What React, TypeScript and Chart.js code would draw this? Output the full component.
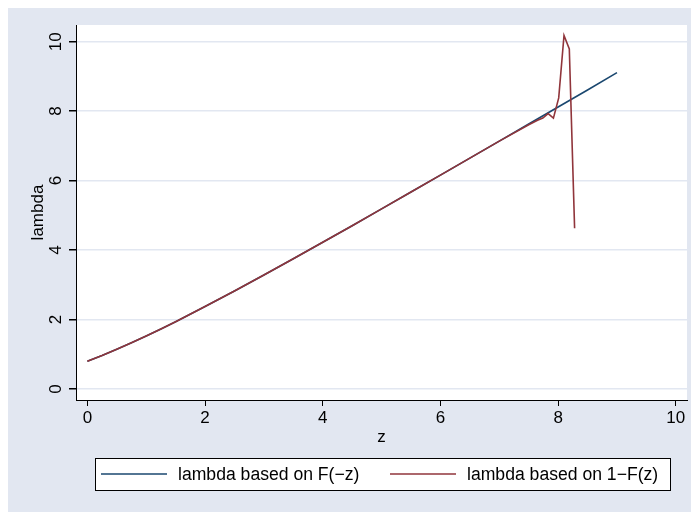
import React, { useEffect, useRef } from "react";
import { Chart, registerables } from "chart.js";

Chart.register(...registerables);

// lambda based on F(-z)
const zF = [0, 0.25, 0.5, 0.75, 1, 1.25, 1.5, 2, 2.5, 3, 3.5, 4, 4.5, 5, 5.5, 6, 6.5, 7, 7.5, 8, 8.5, 9];
const lambdaF = [0.798, 0.964, 1.141, 1.329, 1.525, 1.729, 1.938, 2.373, 2.823, 3.283, 3.75, 4.225, 4.7, 5.186, 5.67, 6.158, 6.647, 7.138, 7.63, 8.12, 8.61, 9.108];

// lambda based on 1-F(z)
const zR = [0, 0.25, 0.5, 0.75, 1, 1.25, 1.5, 2, 2.5, 3, 3.5, 4, 4.5, 5, 5.5, 6, 6.5, 7, 7.5, 7.65, 7.74, 7.83, 7.92, 8.01, 8.1, 8.19, 8.28];
const lambdaR = [0.798, 0.964, 1.141, 1.329, 1.525, 1.729, 1.938, 2.373, 2.823, 3.283, 3.75, 4.225, 4.7, 5.186, 5.67, 6.158, 6.647, 7.138, 7.61, 7.74, 7.8, 7.93, 7.8, 8.38, 10.18, 9.79, 4.63];

const xTicks = [0, 2, 4, 6, 8, 10];
const yTicks = [0, 2, 4, 6, 8, 10];

const seriesNames = ["lambda based on F(\u2212z)", "lambda based on 1\u2212F(z)"];
const xTitle = "z";
const yTitle = "lambda";

const BG = "#e2e7f1";
const BLUE = "#1a476f";
const RED = "#90353b";
const FONT = '"Liberation Sans", Arial, sans-serif';
const FS = 17;

const decor = {
  id: "decor",
  beforeDraw(chart: any) {
    const { ctx, chartArea: a, width, height } = chart;
    ctx.save();
    ctx.fillStyle = BG;
    ctx.fillRect(0, 0, width, height);
    ctx.fillStyle = "#ffffff";
    ctx.fillRect(a.left, a.top, a.right - a.left, a.bottom - a.top);
    ctx.restore();
  },
  afterDraw(chart: any) {
    const { ctx, chartArea: a, scales } = chart;
    const ys = scales.y;
    ctx.save();
    ctx.fillStyle = "#000";
    ctx.font = `${FS}px ${FONT}`;
    ctx.textAlign = "center";
    ctx.textBaseline = "alphabetic";
    // y tick labels, rotated
    yTicks.forEach((v) => {
      const py = ys.getPixelForValue(v);
      ctx.save();
      ctx.translate(53, py);
      ctx.rotate(-Math.PI / 2);
      ctx.fillText(String(v), 0, 0);
      ctx.restore();
    });
    // y title
    ctx.save();
    ctx.translate(35, (a.top + a.bottom) / 2);
    ctx.rotate(-Math.PI / 2);
    ctx.fillText(yTitle, 0, 0);
    ctx.restore();
    // x title
    ctx.fillText(xTitle, (a.left + a.right) / 2, 434);

    // legend
    const bx = 87, by = 450, bw = 575, bh = 32;
    ctx.fillStyle = "#fff";
    ctx.fillRect(bx, by, bw, bh);
    ctx.strokeStyle = "#000";
    ctx.lineWidth = 1;
    ctx.strokeRect(bx + 0.5, by + 0.5, bw, bh);
    const cy = by + bh / 2;
    const items = [
      { x: 93, color: BLUE, text: seriesNames[0] },
      { x: 382, color: RED, text: seriesNames[1] },
    ];
    ctx.font = `17.6px ${FONT}`;
    items.forEach((it) => {
      ctx.strokeStyle = it.color;
      ctx.lineWidth = 1.6;
      ctx.beginPath();
      ctx.moveTo(it.x, cy);
      ctx.lineTo(it.x + 66, cy);
      ctx.stroke();
      ctx.fillStyle = "#000";
      ctx.textAlign = "left";
      ctx.textBaseline = "middle";
      ctx.fillText(it.text, it.x + 77, cy + 1);
    });
    ctx.restore();
  },
};

export default function App() {
  const ref = useRef<HTMLCanvasElement | null>(null);
  useEffect(() => {
    if (!ref.current) return;
    const chart = new Chart(ref.current, {
      type: "line",
      data: {
        datasets: [
          {
            label: seriesNames[0],
            data: zF.map((x, i) => ({ x, y: lambdaF[i] })),
            borderColor: BLUE,
            borderWidth: 1.6,
            pointRadius: 0,
            tension: 0,
            fill: false,
            order: 1,
          },
          {
            label: seriesNames[1],
            data: zR.map((x, i) => ({ x, y: lambdaR[i] })),
            borderColor: RED,
            borderWidth: 1.6,
            pointRadius: 0,
            tension: 0,
            fill: false,
            order: 0,
          },
        ],
      },
      options: {
        animation: false,
        responsive: false,
        devicePixelRatio: 1,
        layout: { padding: { top: 17, right: 12, left: 0, bottom: 0 } },
        plugins: { legend: { display: false }, tooltip: { enabled: false } },
        scales: {
          x: {
            type: "linear",
            min: -0.193,
            max: 10.19,
            afterFit: (s: any) => {
              s.height = 112;
            },
            afterBuildTicks: (s: any) => {
              s.ticks = xTicks.map((v) => ({ value: v }));
            },
            border: { display: true, color: "#000", width: 1 },
            grid: {
              drawOnChartArea: false,
              drawTicks: true,
              tickLength: 6,
              tickColor: "#000",
              color: "rgba(0,0,0,0)",
            },
            ticks: {
              color: "#000",
              padding: 2,
              maxRotation: 0,
              font: { family: FONT, size: FS },
              callback: (v: any) => String(v),
            },
          },
          y: {
            type: "linear",
            min: -0.317,
            max: 10.48,
            afterFit: (s: any) => {
              s.width = 68;
            },
            afterBuildTicks: (s: any) => {
              s.ticks = yTicks.map((v) => ({ value: v }));
            },
            border: { display: true, color: "#000", width: 1 },
            grid: {
              color: BG,
              lineWidth: 1.5,
              drawTicks: true,
              tickLength: 7,
              tickColor: "#000",
            },
            ticks: {
              color: "rgba(0,0,0,0)",
              font: { family: FONT, size: FS },
            },
          },
        },
      },
      plugins: [decor],
    });
    return () => chart.destroy();
  }, []);
  return <canvas ref={ref} width={691} height={504} style={{ display: "block" }} />;
}
